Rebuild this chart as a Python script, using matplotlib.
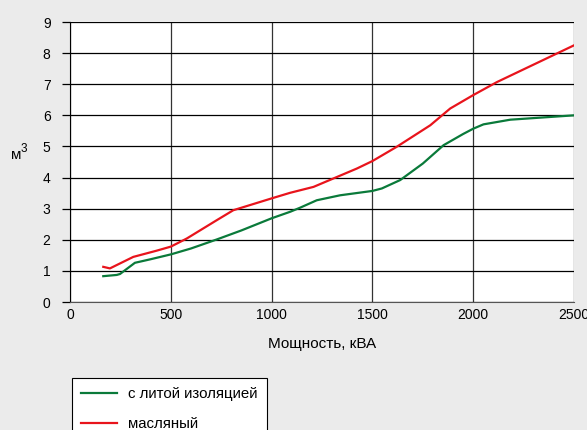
import matplotlib
matplotlib.use("Agg")
import matplotlib.pyplot as plt

plt.rcParams['font.family'] = ['Liberation Sans', 'DejaVu Sans']

# Data
cast_x = [165, 232, 248, 322, 397, 500, 600, 728, 850, 1000, 1092, 1141, 1224, 1340, 1500, 1547, 1638, 1750, 1853, 1950, 2000, 2051, 2184, 2500]
cast_y = [0.83, 0.87, 0.90, 1.26, 1.37, 1.53, 1.72, 2.01, 2.30, 2.69, 2.90, 3.03, 3.27, 3.43, 3.57, 3.65, 3.92, 4.45, 5.04, 5.40, 5.57, 5.71, 5.86, 6.00]
oil_x = [165, 198, 314, 430, 500, 579, 728, 810, 1000, 1092, 1208, 1423, 1500, 1621, 1787, 1886, 2000, 2118, 2500]
oil_y = [1.13, 1.08, 1.45, 1.65, 1.78, 2.04, 2.63, 2.95, 3.33, 3.51, 3.70, 4.29, 4.53, 4.99, 5.68, 6.22, 6.65, 7.07, 8.25]
labels = ['с литой изоляцией', 'масляный']
x_ticks = [0, 500, 1000, 1500, 2000, 2500]
y_ticks = list(range(0, 10))

fig = plt.figure(figsize=(5.87, 4.30), dpi=100, facecolor='#ebebeb')
ax = fig.add_axes([70/587, 1-302/430, 504/587, 280/430])
ax.set_facecolor('white')

l1, = ax.plot(cast_x, cast_y, color='#0a7a3a', lw=1.6, label=labels[0])
l2, = ax.plot(oil_x, oil_y, color='#e8141c', lw=1.6, label=labels[1])

ax.set_xlim(0, 2500)
ax.set_ylim(0, 9)
ax.set_xticks(x_ticks)
ax.set_yticks(y_ticks)
ax.grid(True, axis='y', color='black', lw=0.9)
ax.grid(True, axis='x', color='#333333', lw=0.9)
ax.set_axisbelow(True)
for s in ['top', 'right']:
    ax.spines[s].set_visible(False)
ax.spines['left'].set_color('black')
ax.spines['bottom'].set_color('#555555')
ax.tick_params(axis='y', length=6, width=0.9, pad=8, labelsize=10, color='black')
ax.tick_params(axis='x', length=0, pad=4, labelsize=10)

ax.set_xlabel('Мощность, кВА', fontsize=11, labelpad=11)
fig.text(11/587, 1-155/430, 'м', fontsize=11, ha='left', va='center')
fig.text(21/587, 1-149/430, '3', fontsize=8.5, ha='left', va='center')

leg = fig.legend(handles=[l1, l2], labels=labels, loc='upper left',
                 bbox_to_anchor=(72/587, 1-378/430), fontsize=10.8,
                 frameon=True, fancybox=False, edgecolor='black',
                 framealpha=1, facecolor='white', handlelength=2.4,
                 labelspacing=1.05, borderpad=0.6, handletextpad=0.75,
                 borderaxespad=0)
leg.get_frame().set_linewidth(0.8)

fig.savefig('out.png', dpi=100, facecolor=fig.get_facecolor())
